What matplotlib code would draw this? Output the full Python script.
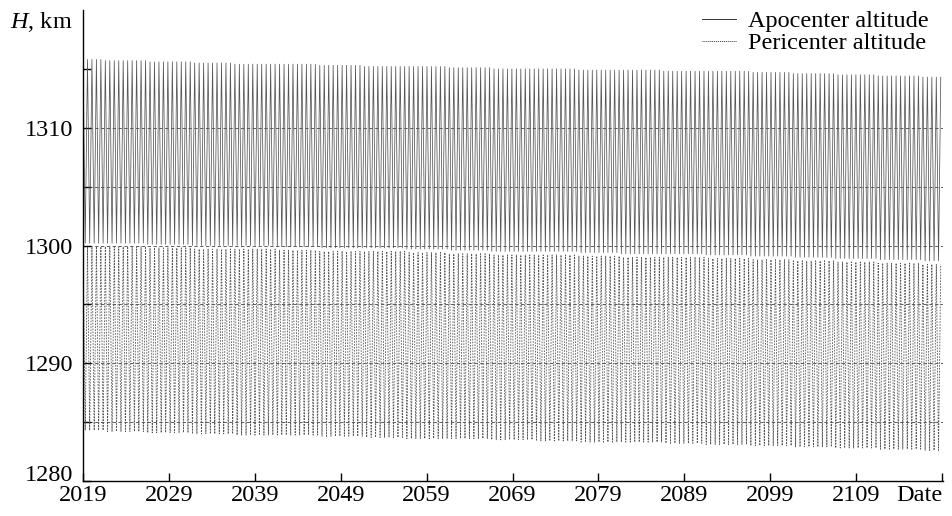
import matplotlib
matplotlib.use("Agg")
import matplotlib.pyplot as plt
from matplotlib.lines import Line2D
import numpy as np

plt.rcParams['font.family'] = ['Liberation Serif', 'DejaVu Serif']
plt.rcParams['mathtext.fontset'] = 'custom'
plt.rcParams['mathtext.it'] = 'Liberation Serif:italic'
plt.rcParams['mathtext.rm'] = 'Liberation Serif'

# envelope values, one per 5-year bin (2019, 2024, ... 2119)
bin_years = [2019, 2024, 2029, 2034, 2039, 2044, 2049, 2054, 2059, 2064, 2069,
             2074, 2079, 2084, 2089, 2094, 2099, 2104, 2109, 2114, 2119]
apo_peak = [1315.8, 1315.7, 1315.6, 1315.5, 1315.4, 1315.4, 1315.3, 1315.2, 1315.2, 1315.1, 1315.0,
            1315.0, 1314.9, 1314.9, 1314.8, 1314.8, 1314.7, 1314.6, 1314.5, 1314.4, 1314.3]
apo_low = [1300.2, 1300.2, 1300.1, 1300.0, 1300.0, 1299.9, 1299.8, 1299.8, 1299.7, 1299.6, 1299.5,
           1299.5, 1299.4, 1299.3, 1299.3, 1299.2, 1299.1, 1299.0, 1298.9, 1298.8, 1298.7]
peri_high = [1299.9, 1299.9, 1299.8, 1299.7, 1299.7, 1299.6, 1299.5, 1299.5, 1299.4, 1299.3, 1299.2,
             1299.2, 1299.1, 1299.0, 1299.0, 1298.9, 1298.8, 1298.7, 1298.6, 1298.5, 1298.4]
peri_low = [1284.3, 1284.2, 1284.1, 1284.0, 1283.9, 1283.9, 1283.8, 1283.7, 1283.6, 1283.6, 1283.5,
            1283.4, 1283.3, 1283.3, 1283.2, 1283.1, 1283.0, 1282.9, 1282.8, 1282.7, 1282.6]

year_ticks = [2019, 2029, 2039, 2049, 2059, 2069, 2079, 2089, 2099, 2109, 2119]
year_labels = ['2019', '2029', '2039', '2049', '2059', '2069', '2079', '2089', '2099', '2109', 'Date']

# turning points: about two oscillations per year
half_period = 0.26
t = np.arange(2019, 2119.01, half_period)
idx = np.clip(np.round((t - 2019) / 5).astype(int), 0, len(bin_years) - 1)
up = np.arange(len(t)) % 2 == 0

apo = np.where(up, np.array(apo_peak)[idx], np.array(apo_low)[idx])
peri = np.where(up, np.array(peri_high)[idx], np.array(peri_low)[idx])

fig = plt.figure(figsize=(9.52, 5.16), dpi=100)
ax = fig.add_axes([83/952, 1 - 481/516, (943 - 83)/952, (481 - 10)/516])

for yv in range(1285, 1315, 5):
    ax.axhline(yv, color='#444444', lw=0.6, ls=(0, (4, 3)), zorder=0)

ax.plot(t, apo, color='#555555', lw=0.55)
ax.plot(t, peri, color='#555555', lw=0.6, ls=(0, (2, 1.5)))

ax.set_xlim(2019, 2119.1)
ax.set_ylim(1280, 1320)

ax.spines['top'].set_visible(False)
ax.spines['right'].set_visible(False)
ax.spines['left'].set_linewidth(1.0)
ax.spines['bottom'].set_linewidth(1.0)

ax.set_xticks(year_ticks)
ax.set_xticklabels(year_labels)
ax.get_xticklabels()[-1].set_horizontalalignment('right')
ax.set_yticks([1280, 1290, 1300, 1310])
ax.set_yticks([1285, 1295, 1305, 1315], minor=True)
ax.tick_params(axis='both', which='both', direction='in', labelsize=17.5, width=1.0)
ax.tick_params(axis='both', which='major', length=6)
ax.tick_params(axis='y', which='minor', length=6)
ax.tick_params(axis='y', pad=7)
ax.tick_params(axis='x', pad=3)
ax.get_yticklabels()[0].set_verticalalignment('baseline')

ax.text(-0.012, 1.0, r'$H$, km', transform=ax.transAxes, ha='right', va='top',
        fontsize=17.5)

handles = [Line2D([], [], color='#333333', lw=0.7),
           Line2D([], [], color='#333333', lw=0.7, ls=(0, (1, 1)))]
ax.legend(handles, ['Apocenter altitude', 'Pericenter altitude'], loc='upper right',
          bbox_to_anchor=(0.995, 1.02), frameon=False, fontsize=17.5, handlelength=1.4,
          handletextpad=0.5, labelspacing=0.0, borderaxespad=0.0)

fig.savefig('out.png', dpi=100)
